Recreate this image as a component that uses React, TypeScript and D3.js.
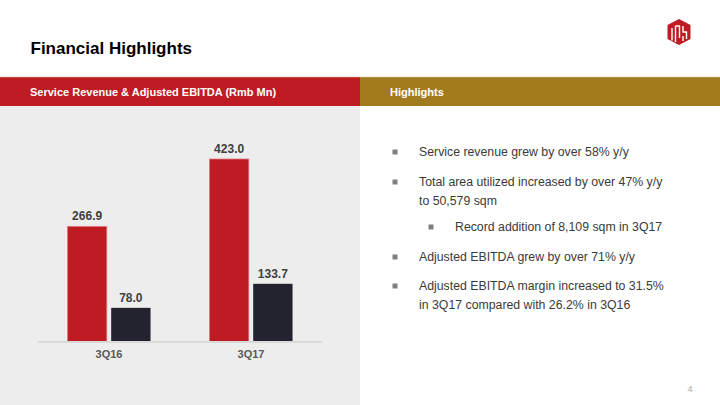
import React from "react";
import * as d3 from "d3";

const categories = ["3Q16", "3Q17"];
const seriesNames = ["Service Revenue", "Adjusted EBITDA"];
const serviceRevenue = [266.9, 423.0];
const adjustedEbitda = [78.0, 133.7];
const bullets = [
  { level: 0, lines: ["Service revenue grew by over 58% y/y"] },
  { level: 0, lines: ["Total area utilized increased by over 47% y/y", "to 50,579 sqm"] },
  { level: 1, lines: ["Record addition of 8,109 sqm in 3Q17"] },
  { level: 0, lines: ["Adjusted EBITDA grew by over 71% y/y"] },
  { level: 0, lines: ["Adjusted EBITDA margin increased to 31.5%", "in 3Q17 compared with 26.2% in 3Q16"] },
];
const bulletY = [152, 182, 227, 257, 286];

const W = 720;
const H = 405;
const RED = "#BE1B23";
const DARK = "#22232F";
const GOLD = "#A37B1F";
const FONT = "'Liberation Sans', Arial, sans-serif";

export default function App() {
  const baseY = 341.5;
  const x0 = d3.scaleBand<string>().domain(categories).range([38, 322]).paddingInner(0.415).paddingOuter(0.2075);
  const x1 = d3.scaleBand<string>().domain(seriesNames).range([0, x0.bandwidth()]).paddingInner(0.1);
  const y = d3.scaleLinear().domain([0, 423]).range([baseY, 159]);
  const colors = [RED, DARK];
  const values = [serviceRevenue, adjustedEbitda];

  return (
    <svg width={W} height={H} style={{ position: "absolute", left: 0, top: 0, display: "block" }} fontFamily={FONT}>
      <rect x={0} y={0} width={W} height={H} fill="#ffffff" />
      {/* Title */}
      <text x={30.5} y={53.5} fontSize={17} fontWeight="bold" fill="#000">Financial Highlights</text>
      {/* Logo */}
      <g transform="translate(667.5,19)">
        <path d="M11.5 0 L23 6 L23 20 L11.5 26 L0 20 L0 6 Z" fill={RED} />
        <path d="M4.5 9 L4.5 21.5 M8 7 L8 23 M8 7 L12 7 L12 19 M15.5 7 L15.5 13 L19 13 L19 20 M15.5 17 L15.5 22" stroke="#fff" strokeWidth={1.4} fill="none" />
      </g>
      {/* Header bars */}
      <rect x={0} y={77} width={360} height={29} fill={RED} />
      <rect x={360} y={77} width={360} height={29} fill={GOLD} />
      <rect x={0} y={76.5} width={720} height={1} fill="#d9c9a0" opacity={0.5} />
      <text x={30} y={96} fontSize={11} fontWeight="bold" fill="#fff">Service Revenue &amp; Adjusted EBITDA (Rmb Mn)</text>
      <text x={390} y={96} fontSize={11} fontWeight="bold" fill="#fff">Highlights</text>
      {/* Grey panel */}
      <rect x={0} y={106} width={360} height={299} fill="#EDEDED" />
      {/* Bars */}
      {categories.map((c, ci) => (
        <g key={c} transform={`translate(${x0(c)},0)`}>
          {seriesNames.map((s, si) => {
            const v = values[si][ci];
            const bx = x1(s) as number;
            return (
              <g key={s}>
                <rect x={bx} y={y(v)} width={x1.bandwidth()} height={baseY - y(v)} fill={colors[si]}
                  stroke={si === 0 ? "#E27A80" : "none"} strokeWidth={si === 0 ? 0.8 : 0} />
                <text x={bx + x1.bandwidth() / 2} y={y(v) - 6} textAnchor="middle" fontSize={12} fontWeight="bold" fill="#404040">
                  {v.toFixed(1)}
                </text>
              </g>
            );
          })}
        </g>
      ))}
      {/* Axis line */}
      <line x1={38} x2={322} y1={baseY + 0.5} y2={baseY + 0.5} stroke="#DADADA" strokeWidth={2} />
      {categories.map((c) => (
        <text key={c} x={(x0(c) as number) + x0.bandwidth() / 2} y={358} textAnchor="middle" fontSize={11} fontWeight="bold" fill="#595959">
          {c}
        </text>
      ))}
      {/* Bullets */}
      {bullets.map((b, i) => {
        const bx = b.level === 0 ? 395 : 431;
        const tx = b.level === 0 ? 419 : 455;
        return (
          <g key={i}>
            <rect x={bx - 2.5} y={bulletY[i] - 2.5} width={5} height={5} fill="#7F7F7F" />
            {b.lines.map((l, li) => (
              <text key={li} x={tx} y={bulletY[i] + 4 + li * 18.5} fontSize={12.3} fill="#3A3A3A">{l}</text>
            ))}
          </g>
        );
      })}
      {/* Page number */}
      <text x={690} y={392} fontSize={9} fill="#A6A6A6" textAnchor="middle">4</text>
    </svg>
  );
}
